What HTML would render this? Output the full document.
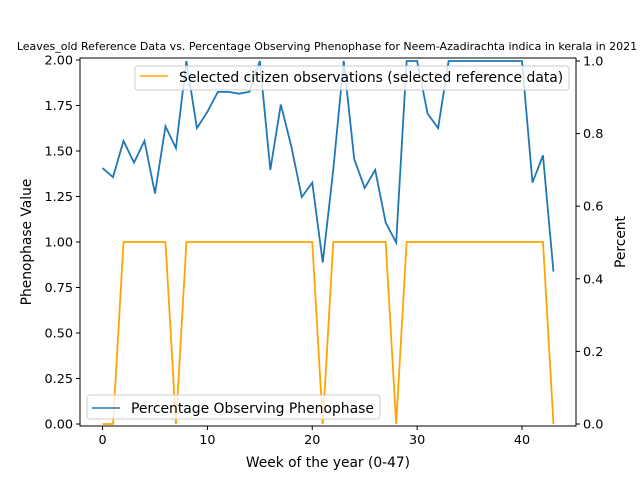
<!DOCTYPE html>
<html><head><meta charset="utf-8"><style>
body{margin:0;background:#fff;font-family:"Liberation Sans","DejaVu Sans",sans-serif}
</style></head><body>
<svg id="c" width="640" height="480" xmlns="http://www.w3.org/2000/svg" font-family="DejaVu Sans, Liberation Sans, sans-serif">
<text x="327" y="50" font-size="11" text-anchor="middle">Leaves_old Reference Data vs. Percentage Observing Phenophase for Neem-Azadirachta indica in kerala in 2021</text>
<g id="plot"></g>
<rect x="80" y="58" width="496" height="368" fill="none" stroke="#000" stroke-width="1"/>
<text x="328" y="467" font-size="13.8" text-anchor="middle">Week of the year (0-47)</text>
<text transform="translate(31,242) rotate(-90)" font-size="13.8" text-anchor="middle">Phenophase Value</text>
<text transform="translate(625,242) rotate(-90)" font-size="13.8" text-anchor="middle">Percent</text>
<g>
<rect x="135" y="66" width="434" height="24" rx="3" fill="#fff" fill-opacity="0.8" stroke="#ccc"/>
<line x1="140" y1="76" x2="168" y2="76" stroke="orange" stroke-width="1.5"/>
<text x="179" y="82" font-size="13.9">Selected citizen observations (selected reference data)</text>
</g>
<g>
<rect x="87" y="395" width="293" height="24" rx="3" fill="#fff" fill-opacity="0.8" stroke="#ccc"/>
<line x1="92" y1="408" x2="120" y2="408" stroke="#1f77b4" stroke-width="1.5"/>
<text x="131" y="413" font-size="13.9">Percentage Observing Phenophase</text>
</g>
</svg>
<script>
const weeks=[0,1,2,3,4,5,6,7,8,9,10,11,12,13,14,15,16,17,18,19,20,21,22,23,24,25,26,27,28,29,30,31,32,33,34,35,36,37,38,39,40,41,42,43];
const refValues=[0,0,1,1,1,1,1,0,1,1,1,1,1,1,1,1,1,1,1,1,1,0,1,1,1,1,1,1,0,1,1,1,1,1,1,1,1,1,1,1,1,1,1,0];
const pctValues=[0.705,0.68,0.78,0.72,0.78,0.635,0.82,0.76,1,0.815,0.86,0.915,0.915,0.91,0.915,1,0.70,0.88,0.765,0.625,0.665,0.445,0.70,1,0.73,0.65,0.70,0.555,0.50,1,1,0.855,0.815,1,1,1,1,1,1,1,1,0.665,0.74,0.42];
const xTicks=[0,10,20,30,40];
const yTicks=[0,0.25,0.5,0.75,1.0,1.25,1.5,1.75,2.0];
const rTicks=[0,0.2,0.4,0.6,0.8,1.0];
const NS="http://www.w3.org/2000/svg";
const X=v=>80+(v+2.15)/47.3*496;
const YL=v=>426-(v+0.011)*182;
const YR=v=>424-v*363;
const g=document.getElementById('plot');
function el(t,a){const e=document.createElementNS(NS,t);for(const k in a)e.setAttribute(k,a[k]);g.appendChild(e);return e;}
xTicks.forEach(t=>{
 const l=el('line',{x1:X(t),x2:X(t),y1:426,y2:430,stroke:'#000'});
 
 
 const tx=el('text',{x:X(t),y:444,'font-size':12.8,'text-anchor':'middle'});tx.textContent=t;
 
 
});
yTicks.forEach(t=>{
 const l=el('line',{x1:76,x2:80,y1:YL(t),y2:YL(t),stroke:'#000'});
 
 
 const tx=el('text',{x:73,y:YL(t)+4.5,'font-size':12.8,'text-anchor':'end'});tx.textContent=t.toFixed(2);
 
 
});
rTicks.forEach(t=>{
 const l=el('line',{x1:576,x2:580,y1:YR(t),y2:YR(t),stroke:'#000'});
 
 
 const tx=el('text',{x:583,y:YR(t)+4.5,'font-size':12.8});tx.textContent=t.toFixed(1);
 
 
});
const o=el('polyline',{points:weeks.map((w,i)=>X(w)+','+YL(refValues[i])).join(' '),fill:'none',stroke:'orange','stroke-width':1.8});


const b=el('polyline',{points:weeks.map((w,i)=>X(w)+','+YR(pctValues[i])).join(' '),fill:'none',stroke:'#1f77b4','stroke-width':1.8});


</script>
</body></html>
